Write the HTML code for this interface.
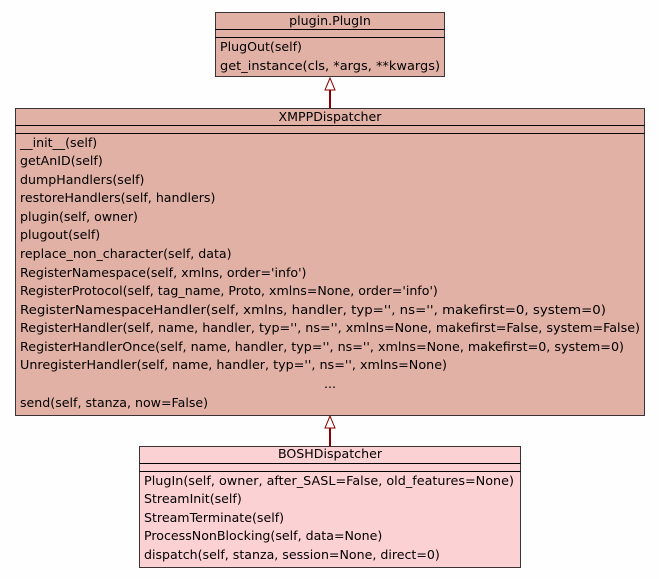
<!DOCTYPE html>
<html><head><meta charset="utf-8"><style>body{margin:0;background:#fff}</style></head><body>
<svg width="659" height="579" xmlns="http://www.w3.org/2000/svg" font-family="DejaVu Sans, sans-serif" font-size="12.6" fill="#000">
<rect x="0" y="0" width="659" height="579" fill="#fefefe"/>
<!-- plugin.PlugIn -->
<rect x="215.5" y="12.5" width="229" height="64" fill="#e2b1a5" stroke="#3c3434"/>
<line x1="215.5" y1="29.5" x2="444.5" y2="29.5" stroke="#000"/>
<line x1="215.5" y1="37.5" x2="444.5" y2="37.5" stroke="#000"/>
<text x="330" y="25" text-anchor="middle">plugin.PlugIn</text>
<text x="220" y="51">PlugOut(self)</text>
<text x="220" y="70" textLength="220" lengthAdjust="spacingAndGlyphs">get_instance(cls, *args, **kwargs)</text>
<!-- arrow 1 -->
<line x1="330" y1="90" x2="330" y2="108" stroke="#8b0000" stroke-width="2"/>
<polygon points="330,78 325,90 335,90" fill="#fff" stroke="#8b0000"/>
<!-- XMPPDispatcher -->
<rect x="15.5" y="108.5" width="629" height="307" fill="#e2b1a5" stroke="#3c3434"/>
<line x1="15.5" y1="125.5" x2="644.5" y2="125.5" stroke="#000"/>
<line x1="15.5" y1="133.5" x2="644.5" y2="133.5" stroke="#000"/>
<text x="330" y="121" text-anchor="middle">XMPPDispatcher</text>
<g>
<text x="20" y="147">__init__(self)</text>
<text x="20" y="165">getAnID(self)</text>
<text x="20" y="184">dumpHandlers(self)</text>
<text x="20" y="202">restoreHandlers(self, handlers)</text>
<text x="20" y="221">plugin(self, owner)</text>
<text x="20" y="239">plugout(self)</text>
<text x="20" y="258">replace_non_character(self, data)</text>
<text x="20" y="277">RegisterNamespace(self, xmlns, order='info')</text>
<text x="20" y="295">RegisterProtocol(self, tag_name, Proto, xmlns=None, order='info')</text>
<text x="20" y="314" textLength="586" lengthAdjust="spacingAndGlyphs">RegisterNamespaceHandler(self, xmlns, handler, typ='', ns='', makefirst=0, system=0)</text>
<text x="20" y="332" textLength="620" lengthAdjust="spacingAndGlyphs">RegisterHandler(self, name, handler, typ='', ns='', xmlns=None, makefirst=False, system=False)</text>
<text x="20" y="351" textLength="604" lengthAdjust="spacingAndGlyphs">RegisterHandlerOnce(self, name, handler, typ='', ns='', xmlns=None, makefirst=0, system=0)</text>
<text x="20" y="369" textLength="427" lengthAdjust="spacingAndGlyphs">UnregisterHandler(self, name, handler, typ='', ns='', xmlns=None)</text>
<text x="330" y="388" text-anchor="middle">...</text>
<text x="20" y="407">send(self, stanza, now=False)</text>
</g>
<!-- arrow 2 -->
<line x1="330" y1="428" x2="330" y2="446" stroke="#8b0000" stroke-width="2"/>
<polygon points="330,416 325,428 335,428" fill="#fff" stroke="#8b0000"/>
<!-- BOSHDispatcher -->
<rect x="139.5" y="446.5" width="381" height="121" fill="#fcd1d3" stroke="#3c3434"/>
<line x1="139.5" y1="463.5" x2="520.5" y2="463.5" stroke="#000"/>
<line x1="139.5" y1="471.5" x2="520.5" y2="471.5" stroke="#000"/>
<text x="330" y="458" text-anchor="middle">BOSHDispatcher</text>
<text x="144" y="485" textLength="370" lengthAdjust="spacingAndGlyphs">PlugIn(self, owner, after_SASL=False, old_features=None)</text>
<text x="144" y="503">StreamInit(self)</text>
<text x="144" y="522">StreamTerminate(self)</text>
<text x="144" y="540">ProcessNonBlocking(self, data=None)</text>
<text x="144" y="559">dispatch(self, stanza, session=None, direct=0)</text>
</svg>
</body></html>
